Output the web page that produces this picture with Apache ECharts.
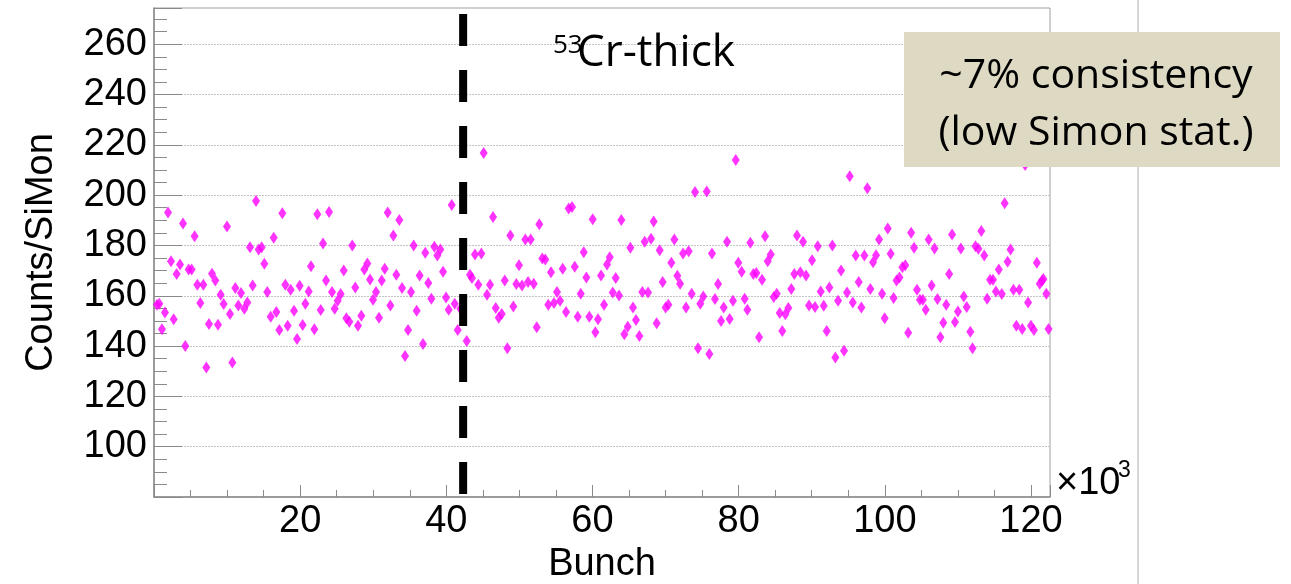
<!DOCTYPE html>
<html>
<head>
<meta charset="utf-8">
<script src="https://cdn.jsdelivr.net/npm/echarts@6/dist/echarts.min.js"></script>
<style>
  html, body { margin: 0; padding: 0; background: #fff; }
  #chart { width: 1291px; height: 584px; }
</style>
</head>
<body>
<div id="chart"></div>
<script>
// Bunch number (in units of 10^3) for each measurement
const bunchK = [
  0.41, 0.73, 1.09, 1.5, 1.92, 2.33, 2.69, 3.1, 3.56, 3.97, 4.28, 4.74, 5.15, 5.56, 5.93, 6.34, 6.75, 7.16, 7.52, 7.94,
  8.39, 8.76, 9.12, 9.53, 9.99, 10.4, 10.72, 11.13, 11.54, 11.9, 12.36, 12.77, 13.14, 13.5, 13.96, 14.32, 14.73, 15.1, 15.5, 15.97,
  16.38, 16.74, 17.15, 17.56, 17.97, 18.29, 18.7, 19.16, 19.57, 19.93, 20.34, 20.71, 21.17, 21.48,
  21.94, 22.35, 22.81, 23.13, 23.54, 23.95, 24.36, 24.72, 25.13, 25.54, 25.96, 26.32, 26.73, 27.13, 27.54, 27.91,
  28.37, 28.78, 29.19, 29.56, 29.97, 30.38, 30.79, 31.16, 31.57, 31.98, 32.34, 32.75, 33.16, 33.57, 33.94, 34.35,
  34.76, 35.17, 35.53, 35.94, 36.35, 36.81, 37.12, 37.53, 37.95, 38.36, 38.77, 39.18, 39.55, 39.96, 40.32, 40.74,
  41.15, 41.56, 41.92, 42.79, 43.24,
  43.51, 43.92, 44.38, 44.79, 45.11, 45.57, 45.98, 46.39, 46.76, 47.17, 47.58, 47.99, 48.35, 48.76, 49.17, 49.58,
  49.94, 50.36, 50.81, 51.18, 51.54, 51.96, 52.37, 52.72, 53.13, 53.54, 53.95, 54.32, 54.73, 55.14, 55.56, 55.92,
  56.38, 56.74, 57.2, 57.57, 57.98, 58.39, 58.8, 59.16, 59.57, 60.03, 60.39, 60.75, 61.17, 61.58, 61.99, 62.36,
  62.77, 63.18, 63.63, 63.95, 64.36, 64.82, 65.18,
  65.54, 65.95, 66.41, 66.82, 67.14, 67.6, 68.01, 68.37, 68.78, 69.19, 69.6, 70.01, 70.38, 70.79, 71.2, 71.61,
  71.98, 72.39, 72.8, 73.16, 73.57, 74.03, 74.44, 74.75, 75.16, 75.63, 75.99, 76.35, 76.76, 77.18, 77.59, 77.95,
  78.41, 78.77, 79.22, 79.6, 79.95, 80.41, 80.82, 81.19, 81.6, 82.01, 82.42, 82.79, 83.2, 83.61, 83.98, 84.39,
  84.8, 85.21, 85.62, 85.97, 86.39, 86.8, 87.2,
  87.61, 87.98, 88.44, 88.81, 89.22, 89.63, 90.04, 90.45, 90.82, 91.23, 91.64, 92.05, 92.41, 92.82, 93.23, 93.6,
  94.01, 94.42, 94.83, 95.2, 95.61, 96.02, 96.43, 96.79, 97.2, 97.61, 98.02, 98.39, 98.8, 99.21, 99.62, 99.98,
  100.4, 100.8, 101.2, 101.6, 102.0, 102.4, 102.8, 103.2, 103.6, 104.0, 104.4, 104.8, 105.2, 105.6, 106.0, 106.4,
  106.8, 107.2, 107.6, 108.0, 108.4, 108.8, 109.2,
  109.6, 110.0, 110.4, 110.8, 111.2, 111.7, 112.0, 112.4, 112.8, 113.2, 113.6, 114.0, 114.4, 114.8, 115.2, 115.6,
  116.0, 116.4, 116.8, 117.2, 117.6, 118.0, 118.4, 118.8, 119.2, 119.6, 120.0, 120.4, 120.8, 121.2, 121.5, 121.7,
  122.1, 122.4
];

// Normalised counts (Counts/SiMon) for each bunch
const countsPerSiMon = [
  156.4, 156.8, 146.7, 153.3, 193.1, 173.7, 150.7, 168.7, 172.4, 188.7, 140.0, 170.4, 170.4, 183.7, 164.4, 157.1, 164.4, 131.5, 148.8, 168.8,
  166.1, 148.5, 160.4, 156.7, 187.5, 152.8, 133.5, 163.1, 156.1, 161.1, 154.8, 157.3, 179.3, 164.1, 197.7, 178.4, 179.3, 172.7, 161.5, 151.7,
  183.1, 153.5, 146.4, 192.8, 164.4, 148.1, 162.4, 154.0, 142.8, 164.0, 148.4, 156.8, 161.7, 171.7,
  146.7, 192.4, 154.3, 180.8, 166.1, 193.3, 161.5, 154.8, 158.0, 160.7, 170.0, 151.1, 149.7, 180.0, 163.3, 148.1,
  152.1, 170.4, 172.8, 166.5, 158.4, 161.5, 151.3, 166.1, 170.7, 193.1, 156.1, 184.0, 168.4, 190.1, 163.1, 136.1,
  146.4, 161.5, 180.0, 154.0, 168.1, 140.8, 177.1, 165.1, 158.8, 179.5, 176.0, 178.4, 169.5, 159.3, 154.4, 196.1,
  156.8, 146.4, 154.8, 142.0, 168.4,
  167.1, 176.4, 164.4, 176.8, 216.8, 160.4, 164.4, 191.3, 155.1, 151.3, 152.8, 166.1, 139.1, 184.0, 155.7, 164.7,
  172.1, 164.1, 182.4, 165.5, 182.4, 164.8, 147.5, 188.4, 174.8, 174.4, 156.4, 169.3, 157.1, 161.5, 158.0, 170.7,
  153.5, 194.7, 195.3, 171.5, 151.7, 160.8, 177.3, 167.3, 151.7, 190.4, 145.5, 150.7, 168.1, 156.4, 172.4, 175.3,
  161.3, 167.1, 160.1, 190.1, 144.7, 147.7, 179.1,
  155.3, 150.4, 144.0, 161.5, 181.5, 161.3, 182.7, 189.5, 149.1, 178.1, 165.5, 155.3, 156.4, 173.1, 182.4, 168.0,
  164.8, 176.8, 155.3, 177.7, 160.8, 201.3, 139.1, 156.8, 159.7, 201.5, 136.8, 176.8, 158.7, 164.7, 150.0, 155.3,
  181.5, 150.8, 158.0, 214.0, 173.1, 169.5, 158.8, 154.4, 181.1, 168.7, 169.1, 143.5, 166.4, 183.7, 173.7, 176.4,
  159.5, 160.8, 153.1, 146.0, 152.7, 155.1, 162.7,
  168.7, 184.0, 169.3, 181.5, 168.1, 156.1, 174.1, 155.5, 179.7, 161.7, 156.0, 146.0, 163.3, 180.0, 135.5, 158.0,
  170.0, 138.1, 161.3, 207.5, 157.3, 176.0, 165.5, 155.3, 176.0, 202.7, 162.7, 173.3, 176.1, 182.4, 160.8, 151.1,
  186.7, 176.7, 159.1, 166.1, 167.3, 171.3, 172.1, 145.3, 185.1, 179.1, 162.4, 158.4, 158.4, 154.4, 182.4, 164.1,
  178.8, 158.7, 143.5, 149.3, 156.4, 168.7, 184.4,
  149.6, 153.7, 178.8, 159.7, 155.5, 145.7, 139.1, 179.7, 178.7, 185.7, 176.0, 158.8, 166.4, 166.4, 161.7, 170.4,
  160.7, 196.8, 173.5, 178.4, 162.4, 148.1, 162.4, 146.8, 212.0, 157.3, 148.1, 146.4, 173.1, 164.8, 166.0, 166.7,
  160.8, 146.8
];

// Run boundary marker (bunch, 10^3)
const boundaryBunchK = 42.3;

// Axis ranges and tick steps
const xMin = 0, xMax = 122.6, xMajor = 20, xMinor = 5;
const yMin = 80, yMax = 274.4, yMajor = 20, yMinor = 5;

// Texts
const targetMass = '53';
const targetName = 'Cr-thick';
const noteLines = ['~7% consistency', '(low Simon stat.)'];
const xTitle = 'Bunch';
const yTitle = 'Counts/SiMon';

const points = bunchK.map((b, i) => [b, countsPerSiMon[i]]);

const axisGray = '#8a8a8a';
const labelFont = 'Liberation Sans';

const chart = echarts.init(document.getElementById('chart'), null, { renderer: 'canvas' });

const option = {
  animation: false,
  backgroundColor: '#ffffff',
  grid: {
    left: 154, right: 241, top: 8, bottom: 87,
    containLabel: false, outerBoundsMode: 'none',
    show: true, borderColor: '#a0a0a0', borderWidth: 1, backgroundColor: '#ffffff'
  },
  xAxis: [
    {
      type: 'value', min: xMin, max: xMax, interval: xMajor, position: 'bottom',
      axisLine: { show: true, onZero: false, lineStyle: { color: axisGray, width: 1.5 } },
      axisTick: { show: true, inside: true, length: 12, lineStyle: { color: axisGray, width: 1 } },
      axisLabel: {
        color: '#000', fontFamily: labelFont, fontSize: 38, margin: 6,
        formatter: v => (v > 0 && v % xMajor === 0) ? String(v) : ''
      },
      splitLine: { show: false },
      name: xTitle, nameLocation: 'middle', nameGap: 45,
      nameTextStyle: { color: '#000', fontFamily: labelFont, fontSize: 38 }
    },
    {
      type: 'value', min: xMin, max: xMax, interval: xMinor, position: 'bottom',
      axisLine: { show: false },
      axisTick: { show: true, inside: true, length: 7, lineStyle: { color: axisGray, width: 1 } },
      axisLabel: { show: false },
      splitLine: { show: false }
    }
  ],
  yAxis: [
    {
      type: 'value', min: yMin, max: yMax, interval: yMajor, position: 'left',
      axisLine: { show: true, onZero: false, lineStyle: { color: axisGray, width: 1.5 } },
      axisTick: { show: true, inside: true, length: 28, lineStyle: { color: axisGray, width: 1 } },
      axisLabel: {
        color: '#000', fontFamily: labelFont, fontSize: 38, margin: 7,
        formatter: v => (v >= 100 && v % yMajor === 0) ? String(v) : ''
      },
      splitLine: {
        show: true, showMinLine: false, showMaxLine: false,
        lineStyle: { color: '#c4c4c4', width: 1, type: [2, 1] }
      },
      name: yTitle, nameLocation: 'middle', nameGap: 93,
      nameTextStyle: { color: '#000', fontFamily: labelFont, fontSize: 38 }
    },
    {
      type: 'value', min: yMin, max: yMax, interval: yMinor, position: 'left',
      axisLine: { show: false },
      axisTick: { show: true, inside: true, length: 13, lineStyle: { color: axisGray, width: 1 } },
      axisLabel: { show: false },
      splitLine: { show: false }
    }
  ],
  series: [
    {
      type: 'scatter',
      xAxisIndex: 0, yAxisIndex: 0,
      data: points,
      symbol: 'diamond',
      symbolSize: [8, 12],
      itemStyle: { color: '#ff00ff' },
      z: 3
    },
    {
      type: 'line',
      xAxisIndex: 0, yAxisIndex: 0,
      data: [[boundaryBunchK, 272.0], [boundaryBunchK, 81.2]],
      symbol: 'none',
      lineStyle: { color: '#000', width: 8, type: [32, 24], cap: 'butt' },
      silent: true,
      z: 4
    }
  ],
  graphic: [
    {
      type: 'line', z: 1,
      shape: { x1: 1138, y1: 0, x2: 1138, y2: 584 },
      style: { stroke: '#c8c8c8', lineWidth: 1.5 }
    },
    {
      type: 'rect', z: 100,
      shape: { x: 904, y: 32, width: 376, height: 135 },
      style: { fill: '#DDD9C3' }
    },
    {
      type: 'text', z: 101, x: 1096, y: 76,
      style: {
        text: noteLines[0], fill: '#000', font: '41px "Open Sans"',
        textAlign: 'center', textVerticalAlign: 'middle'
      }
    },
    {
      type: 'text', z: 101, x: 1096, y: 133,
      style: {
        text: noteLines[1], fill: '#000', font: '41px "Open Sans"',
        textAlign: 'center', textVerticalAlign: 'middle'
      }
    },
    {
      type: 'text', z: 101, x: 553, y: 46,
      style: {
        text: targetMass, fill: '#000', font: '26px "Open Sans"',
        textAlign: 'left', textVerticalAlign: 'middle'
      }
    },
    {
      type: 'text', z: 101, x: 577, y: 53,
      style: {
        text: targetName, fill: '#000', font: '44px "Open Sans"',
        textAlign: 'left', textVerticalAlign: 'middle'
      }
    },
    {
      type: 'text', z: 101, x: 1056, y: 484,
      style: {
        text: '\u00d710', fill: '#000', font: '38px "Liberation Sans"',
        textAlign: 'left', textVerticalAlign: 'middle'
      }
    },
    {
      type: 'text', z: 101, x: 1118, y: 471,
      style: {
        text: '3', fill: '#000', font: '23px "Liberation Sans"',
        textAlign: 'left', textVerticalAlign: 'middle'
      }
    }
  ]
};

chart.setOption(option);
</script>
</body>
</html>
